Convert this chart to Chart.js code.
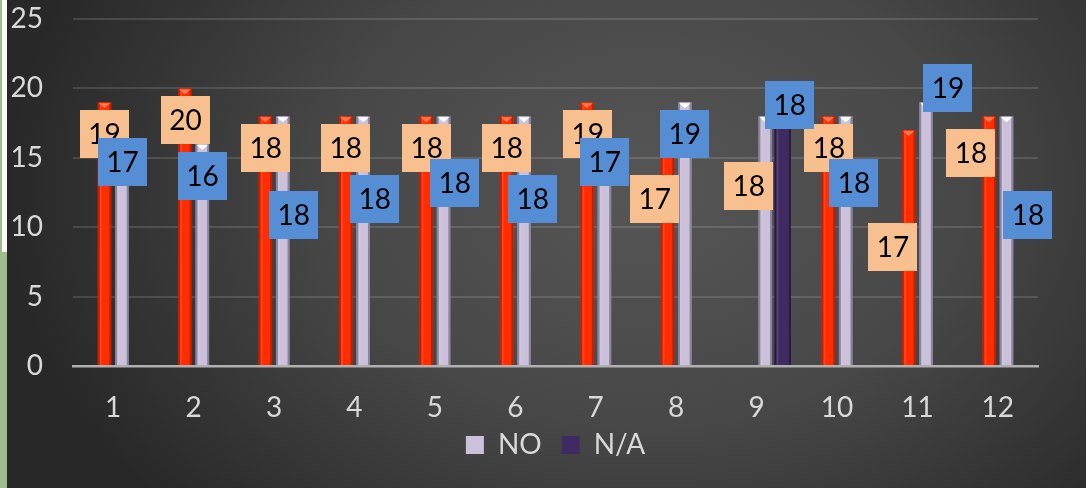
<!DOCTYPE html>
<html><head><meta charset="utf-8">
<script src="https://cdn.jsdelivr.net/npm/chart.js@4"></script>
<style>
html,body{margin:0;padding:0;background:#2a2a2a;}
#wrap{position:relative;width:1086px;height:488px;overflow:hidden;}
#strip{position:absolute;left:0;top:0;width:7px;height:488px;background:#9fbd8c;}
#strip2{position:absolute;left:2px;top:0;width:5px;height:252px;background:#ffffff;}
#c{position:absolute;left:7px;top:0;}
</style></head><body>
<div id="wrap"><div id="strip"></div><div id="strip2"></div><canvas id="c" width="1079" height="488" style="width:1079px;height:488px"></canvas></div>
<script>
// ---- data ----
const categories = ['1','2','3','4','5','6','7','8','9','10','11','12'];
const blankSeries = [null,null,null,null,null,null,null,null,null,null,null,null];
const redSeries = [19,20,18,18,18,18,19,17,null,18,17,18];
const noSeries  = [17,16,18,18,18,18,17,19,18,18,19,18];
const naSeries  = [null,null,null,null,null,null,null,null,18,null,null,null];
const yTicks = [0,5,10,15,20,25];

// ---- data label placement (manual Excel placement) ----
const orangeSource = [1,1,1,1,1,1,1,1,2,1,1,1];
const orangeLabelY = [16.7,17.7,15.7,15.7,15.7,15.7,16.7,12.0,13.0,15.7,8.6,15.35];
const orangeLabelDx = [-8.7,-8.1,-8.4,-8.8,-8.2,-8.5,-7.9,-21.3,-7.7,-8.0,-24.4,-26.8];
const blueSource = [2,2,2,2,2,2,2,2,3,2,2,2];
const blueLabelY = [14.7,13.7,10.9,12.0,13.2,12.0,14.7,16.7,18.8,13.2,20.0,10.9];
const blueLabelDx = [9.3,8.9,19.6,20.2,19.8,17.5,9.1,8.7,33.3,17.0,30.6,30.2];

const FONT = 'Lato, "Open Sans", sans-serif';
const TXT = '#d9d9d9';

const bgPlugin = {
  id:'bg',
  beforeDraw(chart){
    const ctx = chart.ctx, w = chart.width, h = chart.height;
    ctx.save();
    ctx.fillStyle = '#282828';
    ctx.fillRect(0,0,w,h);
    ctx.translate(640,190);
    ctx.scale(1,0.75);
    const g = ctx.createRadialGradient(0,0,0,0,0,640);
    g.addColorStop(0,'#565656');
    g.addColorStop(0.5,'#474747');
    g.addColorStop(1,'#282828');
    ctx.fillStyle = g;
    ctx.fillRect(-700,-400,1500,900);
    ctx.restore();
  }
};

const capColors = {1:'#ff7a50',2:'#ffffff',3:'#6b568f'};
const edgeColors = {1:'rgba(150,20,0,0.55)',2:'rgba(90,80,110,0.55)',3:'rgba(20,10,40,0.5)'};
const bevelPlugin = {
  id:'bevel',
  afterDatasetsDraw(chart){
    const ctx = chart.ctx;
    ctx.save();
    chart.data.datasets.forEach((ds, di) => {
      if (!capColors[di]) return;
      const meta = chart.getDatasetMeta(di);
      meta.data.forEach((el, i) => {
        if (ds.data[i] == null) return;
        const l = el.x - el.width/2, r = el.x + el.width/2, t = el.y, b = el.base;
        ctx.fillStyle = edgeColors[di];
        ctx.fillRect(l, t, 2, b - t);
        ctx.fillRect(r - 2, t, 2, b - t);
        ctx.fillStyle = 'rgba(255,255,255,0.10)';
        ctx.fillRect(l + 2, t, 2, b - t);
        ctx.fillStyle = capColors[di];
        ctx.beginPath();
        ctx.moveTo(l + 1, t + 1);
        ctx.lineTo(r - 1, t + 1);
        ctx.lineTo(el.x, t + 6);
        ctx.closePath();
        ctx.fill();
      });
    });
    ctx.restore();
  }
};

function drawBox(ctx, cx, cy, text, fill){
  ctx.fillStyle = fill;
  ctx.fillRect(Math.round(cx - 24.5), Math.round(cy - 24), 49, 48);
  ctx.fillStyle = '#000';
  ctx.font = '28px ' + FONT;
  ctx.textAlign = 'center';
  ctx.textBaseline = 'middle';
  ctx.fillText(text, cx, cy + 1);
}
const labelPlugin = {
  id:'boxLabels',
  afterDatasetsDraw(chart){
    const ctx = chart.ctx, xs = chart.scales.x, ys = chart.scales.y;
    ctx.save();
    categories.forEach((c, i) => {
      const v = chart.data.datasets[orangeSource[i]].data[i];
      if (v != null) drawBox(ctx, xs.getPixelForValue(i) + orangeLabelDx[i], ys.getPixelForValue(orangeLabelY[i]), String(v), '#f9c08f');
    });
    categories.forEach((c, i) => {
      const v = chart.data.datasets[blueSource[i]].data[i];
      if (v != null) drawBox(ctx, xs.getPixelForValue(i) + blueLabelDx[i], ys.getPixelForValue(blueLabelY[i]), String(v), '#558ed5');
    });
    ctx.restore();
  }
};

new Chart(document.getElementById('c'), {
  type:'bar',
  data:{
    labels: categories,
    datasets:[
      {label:'', data: blankSeries, backgroundColor:'rgba(0,0,0,0)'},
      {label:'YES', data: redSeries, backgroundColor:'#ff2d00'},
      {label:'NO', data: noSeries, backgroundColor:'#cbc1db'},
      {label:'N/A', data: naSeries, backgroundColor:'#3f2b61', barPercentage:0.95}
    ]
  },
  options:{
    responsive:false,
    animation:false,
    devicePixelRatio:1,
    categoryPercentage:0.866,
    barPercentage:0.78,
    layout:{padding:{left:0,right:48,top:19,bottom:19}},
    scales:{
      x:{
        grid:{display:false, drawTicks:false},
        border:{display:true, color:'#b0b0b0', width:2.5},
        ticks:{color:TXT, font:{family:FONT, size:28}, padding:25},
        afterFit(axis){ axis.height = 59; axis.paddingLeft = 0; axis.paddingRight = 0; }
      },
      y:{
        min:0, max:25,
        afterBuildTicks(axis){ axis.ticks = yTicks.map(v => ({value:v})); },
        grid:{color:'rgba(255,255,255,0.13)', lineWidth:2, drawTicks:false},
        border:{display:false},
        ticks:{color:TXT, font:{family:FONT, size:28}, padding:30},
        afterFit(axis){ axis.width = 66; axis.paddingTop = 0; axis.paddingBottom = 0; }
      }
    },
    plugins:{
      tooltip:{enabled:false},
      legend:{
        position:'bottom',
        fullSize:false,
        labels:{
          color:TXT, font:{family:FONT, size:28}, boxWidth:18, boxHeight:18, padding:6,
          filter:(item) => item.text.trim() === 'NO' || item.text.trim() === 'N/A',
          generateLabels(chart){
            const items = Chart.defaults.plugins.legend.labels.generateLabels(chart);
            items.forEach(it => { if (it.text === 'NO') it.text = 'NO\u2002'; });
            return items;
          }
        }
      }
    }
  },
  plugins:[bgPlugin, bevelPlugin, labelPlugin]
});
</script>
</body></html>
